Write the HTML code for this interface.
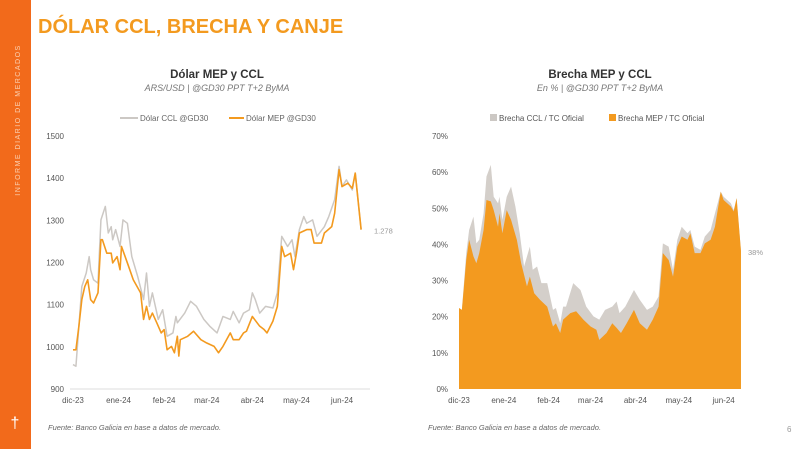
<!DOCTYPE html>
<html><head><meta charset="utf-8"><style>
body{margin:0;width:800px;height:449px;overflow:hidden;background:#fff;font-family:"Liberation Sans",sans-serif}
svg text{font-family:"Liberation Sans",sans-serif}
</style></head><body>
<svg id="s" width="800" height="449" viewBox="0 0 800 449" xmlns="http://www.w3.org/2000/svg">
<rect x="0" y="0" width="31" height="449" fill="#f26a1b"/>
<text transform="translate(20,120) rotate(-90)" font-size="7" fill="#fbd3b5" letter-spacing="1.5" text-anchor="middle">INFORME DIARIO DE MERCADOS</text>
<text x="15" y="428" font-size="16" fill="#fff" text-anchor="middle">†</text>
<text x="38" y="33" font-size="20" font-weight="bold" fill="#f39a1f">DÓLAR CCL, BRECHA Y CANJE</text>
<text x="217" y="78" font-size="11.5" font-weight="bold" fill="#333" text-anchor="middle">Dólar MEP y CCL</text>
<text x="217" y="91" font-size="9" font-style="italic" fill="#777" text-anchor="middle">ARS/USD | @GD30 PPT T+2 ByMA</text>
<g>
<line x1="120" y1="118" x2="138" y2="118" stroke="#ccc8c4" stroke-width="2"/>
<text x="140" y="121" font-size="8" fill="#666">Dólar CCL @GD30</text>
<line x1="229" y1="118" x2="244" y2="118" stroke="#f39a1f" stroke-width="2"/>
<text x="246" y="121" font-size="8" fill="#666">Dólar MEP @GD30</text>
</g>
<text x="600" y="78" font-size="11.5" font-weight="bold" fill="#333" text-anchor="middle">Brecha MEP y CCL</text>
<text x="600" y="91" font-size="9" font-style="italic" fill="#777" text-anchor="middle">En % | @GD30 PPT T+2 ByMA</text>
<g>
<rect x="490" y="114" width="7" height="7" fill="#ccc8c4"/>
<text x="499" y="121" font-size="8" fill="#555">Brecha CCL / TC Oficial</text>
<rect x="609" y="114" width="7" height="7" fill="#f39a1f"/>
<text x="618" y="121" font-size="8" fill="#555">Brecha MEP / TC Oficial</text>
</g>
<text x="48" y="430" font-size="7.5" font-style="italic" fill="#666">Fuente: Banco Galicia en base a datos de mercado.</text>
<text x="428" y="430" font-size="7.5" font-style="italic" fill="#666">Fuente: Banco Galicia en base a datos de mercado.</text>
<text x="787" y="432" font-size="8" fill="#999">6</text>
<g id="left"></g><g id="right"></g>
</svg>
<script>
const months=["dic-23","ene-24","feb-24","mar-24","abr-24","may-24","jun-24"];
const monthDays=[0,31,62,91,122,152,183];
const leftTicks=[900,1000,1100,1200,1300,1400,1500];
const rightTicks=[0,10,20,30,40,50,60,70];
const cclDays=[0,2,6,9,11,12,14,17,19,22,24,26,27,29,32,34,37,40,44,48,50,52,54,58,61,64,68,70,71,76,80,84,89,93,98,102,107,109,113,116,120,122,124,127,131,136,139,142,146,149,151,154,157,159,163,166,171,174,178,181,183,186,190,192,196];
const cclVals=[958,954,1143,1175,1214,1183,1159,1151,1301,1333,1270,1285,1254,1278,1238,1301,1293,1214,1167,1112,1175,1096,1128,1065,1088,1025,1033,1072,1057,1080,1108,1096,1065,1049,1033,1072,1065,1084,1057,1080,1088,1128,1112,1080,1096,1092,1128,1262,1238,1254,1214,1278,1309,1293,1301,1262,1285,1309,1349,1428,1380,1396,1372,1412,1278];
const mepDays=[0,2,4,6,8,10,12,14,17,19,20,23,26,27,30,32,33,37,41,46,48,50,52,54,57,60,62,64,67,69,71,72,73,78,82,87,91,96,99,102,107,109,113,116,118,122,127,130,132,136,139,142,144,148,150,152,154,159,162,164,169,171,176,178,181,183,187,190,192,196];
const mepVals=[993,993,1049,1112,1143,1159,1112,1104,1128,1254,1254,1222,1222,1199,1214,1183,1238,1199,1159,1128,1065,1096,1065,1080,1057,1033,1041,993,1001,986,1025,978,1017,1025,1037,1017,1009,1001,986,1001,1033,1017,1017,1033,1037,1072,1049,1041,1033,1061,1096,1238,1214,1222,1183,1222,1270,1278,1278,1246,1246,1270,1285,1317,1420,1380,1388,1376,1412,1278];
const bDays=[0,2,5,7,10,12,14,17,19,22,24,27,28,30,33,36,39,42,45,49,51,54,57,61,65,67,70,72,74,79,84,88,93,97,101,106,109,111,115,121,125,130,134,138,141,145,148,151,154,158,160,163,167,170,174,177,181,183,188,190,192,195];
const bCcl=[22.4,21.9,37.6,44,47.7,40.3,41.3,48.6,58.8,62,53.2,51.4,53.2,46.8,53.2,56,50.5,43.1,33.9,39.4,33,33.9,29.3,29.3,21.9,22.4,18.2,22.8,22.8,29.3,27.4,22.8,20.1,19.2,21.9,22.8,24.2,21,22.8,27.4,24.7,21.9,22.8,25.6,40.3,39.4,33,41.3,44.9,43.1,44,39.4,38.5,42.2,44,48.6,54.6,53.2,51.4,49.5,52.8,38.2];
const mDays=[0,2,5,7,10,12,14,17,19,22,24,27,28,30,33,36,40,43,47,49,52,56,61,65,67,70,72,77,81,86,91,95,97,102,106,109,112,116,121,125,130,134,138,141,145,148,151,154,158,160,163,167,170,174,177,181,183,188,190,192,195];
const bMep=[22.4,21.9,35.7,41.3,36.7,34.8,37.6,44,52.3,51.9,49.5,44.9,48.6,43.1,49.5,46.8,41.3,34.8,28.4,31.1,26.5,24.7,22.8,17.3,18.2,15.5,19.2,21,21.5,19.2,17.3,16.4,13.6,15.5,18.2,16.9,15.5,18.2,21.9,18.2,16.4,19.2,22.8,37.6,35.7,31.1,39.4,42.2,41.3,43.1,37.6,37.6,40.3,41.3,44.9,54.6,52.3,50.5,49.1,52.8,38.2];
const NS="http://www.w3.org/2000/svg";
function mk(tag,attrs,parent){const e=document.createElementNS(NS,tag);for(const k in attrs)e.setAttribute(k,attrs[k]);parent.appendChild(e);return e;}
const L=document.getElementById('left');
const lx=d=>73+d*1.47, ly=v=>389-(v-900)*253/600;
leftTicks.forEach(t=>{const tx=mk('text',{x:64,y:ly(t)+3,'font-size':8,fill:'#555','text-anchor':'end'},L);tx.textContent=t;

});
const la=mk('line',{x1:70,x2:370,y1:389,y2:389,stroke:'#ddd','stroke-width':1},L);


months.forEach((m,i)=>{const tx=mk('text',{x:lx(monthDays[i]),y:403,'font-size':8,fill:'#555','text-anchor':'middle'},L);tx.textContent=m;

});
const pc=mk('polyline',{points:cclDays.map((d,i)=>lx(d)+','+ly(cclVals[i])).join(' '),fill:'none',stroke:'#ccc8c4','stroke-width':1.5,'stroke-linejoin':'round'},L);


const pm=mk('polyline',{points:mepDays.map((d,i)=>lx(d)+','+ly(mepVals[i])).join(' '),fill:'none',stroke:'#f39a1f','stroke-width':1.6,'stroke-linejoin':'round'},L);


const lv=mk('text',{x:374,y:ly(mepVals[mepVals.length-1])+4,'font-size':7.5,fill:'#999'},L);
lv.textContent=mepVals[mepVals.length-1].toLocaleString('de-DE');


const R=document.getElementById('right');
const rx=d=>459+d*1.446, ry=v=>389-v*253/70;
rightTicks.forEach(t=>{const tx=mk('text',{x:448,y:ry(t)+3,'font-size':8,fill:'#555','text-anchor':'end'},R);tx.textContent=t+'%';

});
months.forEach((m,i)=>{const tx=mk('text',{x:rx(monthDays[i]),y:403,'font-size':8,fill:'#555','text-anchor':'middle'},R);tx.textContent=m;

});
function area(days,vals){return 'M'+rx(days[0])+','+ry(0)+' '+days.map((d,i)=>'L'+rx(d)+','+ry(vals[i])).join(' ')+' L'+rx(days[days.length-1])+','+ry(0)+'Z';}
const ac=mk('path',{d:area(bDays,bCcl),fill:'#d4cfca'},R);


const am=mk('path',{d:area(mDays,bMep),fill:'#f39a1f'},R);


const rv=mk('text',{x:748,y:ry(bMep[bMep.length-1])+4,'font-size':7.5,fill:'#999'},R);
rv.textContent=Math.round(bMep[bMep.length-1])+'%';


</script>
</body></html>
